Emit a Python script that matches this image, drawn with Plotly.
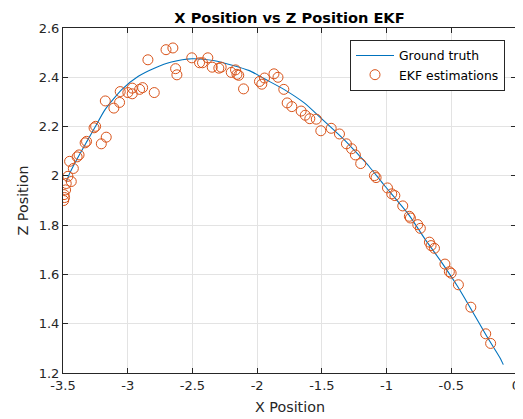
import plotly.graph_objects as go

# Ground truth trajectory
gt_x = [-3.475, -3.457, -3.40, -3.315, -3.252, -3.175, -3.046, -2.918, -2.790, -2.662,
        -2.503, -2.329, -2.20, -2.06, -1.944, -1.79, -1.636, -1.508, -1.328, -1.213,
        -1.136, -1.021, -0.829, -0.70, -0.572, -0.452, -0.367, -0.226, -0.123, -0.098]
gt_z = [1.975, 2.00, 2.06, 2.14, 2.198, 2.269, 2.35, 2.404, 2.438, 2.462,
        2.475, 2.467, 2.45, 2.427, 2.394, 2.35, 2.296, 2.235, 2.147, 2.083,
        2.039, 1.964, 1.843, 1.741, 1.647, 1.552, 1.477, 1.349, 1.261, 1.234]

# EKF estimations
ekf_x = [-3.495, -3.488, -3.492, -3.480, -3.475, -3.462, -3.436, -3.449, -3.420, -3.391,
         -3.376, -3.329, -3.318, -3.260, -3.248, -3.204, -3.166, -3.173, -3.107, -3.063,
         -3.058, -2.999, -2.965, -2.965, -2.908, -2.885, -2.795, -2.844, -2.704, -2.651,
         -2.630, -2.620, -2.505, -2.445, -2.422, -2.381, -2.347, -2.296, -2.278, -2.200,
         -2.167, -2.156, -2.142, -2.105, -1.982, -1.964, -1.943, -1.870, -1.839, -1.794,
         -1.768, -1.732, -1.660, -1.628, -1.593, -1.543, -1.508, -1.428, -1.364, -1.310,
         -1.270, -1.241, -1.200, -1.094, -1.081, -0.993, -0.960, -0.936, -0.875, -0.824,
         -0.816, -0.759, -0.739, -0.669, -0.656, -0.630, -0.549, -0.515, -0.501, -0.445,
         -0.349, -0.234, -0.196]
ekf_z = [1.900, 1.912, 1.924, 1.943, 1.969, 1.998, 1.977, 2.059, 2.030, 2.077,
         2.085, 2.134, 2.140, 2.195, 2.201, 2.130, 2.157, 2.304, 2.275, 2.298,
         2.342, 2.338, 2.356, 2.333, 2.351, 2.358, 2.338, 2.471, 2.512, 2.519,
         2.435, 2.410, 2.479, 2.459, 2.459, 2.479, 2.441, 2.437, 2.441, 2.420,
         2.430, 2.412, 2.408, 2.353, 2.383, 2.372, 2.397, 2.414, 2.400, 2.351,
         2.296, 2.281, 2.263, 2.246, 2.232, 2.230, 2.183, 2.193, 2.170, 2.130,
         2.110, 2.085, 2.050, 2.001, 1.993, 1.951, 1.927, 1.920, 1.878, 1.836,
         1.829, 1.802, 1.787, 1.731, 1.717, 1.706, 1.642, 1.611, 1.605, 1.558,
         1.467, 1.359, 1.320]

x_ticks = [-3.5, -3, -2.5, -2, -1.5, -1, -0.5, 0]
x_tick_text = ["-3.5", "-3", "-2.5", "-2", "-1.5", "-1", "-0.5", "0"]
y_ticks = [1.2, 1.4, 1.6, 1.8, 2.0, 2.2, 2.4, 2.6]
y_tick_text = ["1.2", "1.4", "1.6", "1.8", "2", "2.2", "2.4", "2.6"]

FONT = "DejaVu Sans"
AX = "#262626"
GRID = "#e3e3e3"

# the page body has an 8px margin, so the figure is 8px smaller and shifted
W, H = 515, 411
ML, MR, MT, MB = 55, 7, 20, 46
PW, PH = W - ML - MR, H - MT - MB

fig = go.Figure()
fig.add_trace(go.Scatter(x=gt_x, y=gt_z, mode="lines", name="Ground truth",
                         line=dict(color="#0072BD", width=1.1, shape="spline", smoothing=0.6)))
fig.add_trace(go.Scatter(x=ekf_x, y=ekf_z, mode="markers", name="EKF estimations",
                         marker=dict(symbol="circle-open", size=10, color="#D95319",
                                     line=dict(width=1, color="#D95319"))))

axis_common = dict(showline=True, linecolor=AX, linewidth=1, mirror="ticks",
                   ticks="inside", ticklen=5, tickcolor=AX, showgrid=True,
                   gridcolor=GRID, gridwidth=1, zeroline=False, automargin=False,
                   tickfont=dict(family=FONT, size=13, color=AX))

fig.update_layout(
    width=W, height=H,
    margin=dict(l=ML, r=MR, t=MT, b=MB, autoexpand=False),
    paper_bgcolor="white", plot_bgcolor="white",
    title=dict(text="<b>X Position vs Z Position EKF</b>", x=(ML + PW / 2) / W, xanchor="center",
               y=1 - 9.5 / H, yanchor="middle", yref="container",
               font=dict(family=FONT, size=14.6, color="black")),
    xaxis=dict(range=[-3.5, 0], tickvals=x_ticks, ticktext=x_tick_text, **axis_common),
    yaxis=dict(range=[1.2, 2.6], tickvals=y_ticks, ticktext=y_tick_text, **axis_common),
    legend=dict(x=(497 - ML) / PW, xanchor="right", y=1 - 12 / PH, yanchor="top",
                bgcolor="white", bordercolor=AX, borderwidth=1,
                font=dict(family=FONT, size=12.4, color="black"),
                tracegroupgap=0, itemwidth=38),
    showlegend=True,
    annotations=[
        dict(text="X Position", xref="paper", yref="paper", x=0.5, y=-(399 - (MT + PH)) / PH,
             xanchor="center", yanchor="middle", showarrow=False,
             font=dict(family=FONT, size=14.3, color=AX)),
        dict(text="Z Position", xref="paper", yref="paper", x=-(ML - 14) / PW, y=0.5,
             xanchor="center", yanchor="middle", showarrow=False, textangle=-90,
             font=dict(family=FONT, size=14.3, color=AX)),
    ],
)

fig.write_html("out.html")
